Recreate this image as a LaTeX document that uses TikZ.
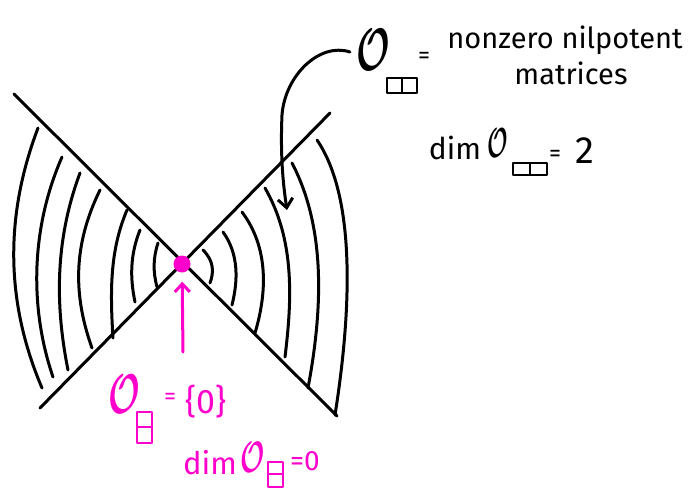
\documentclass[tikz,border=0pt]{standalone}
\usepackage{fontspec}
\usepackage{bm}
\setmainfont{Fira Sans}
\usetikzlibrary{arrows.meta}
\definecolor{mag}{RGB}{255,0,204}
\begin{document}
\begin{tikzpicture}[x=1pt,y=-1pt, line cap=round, line join=round,
  ink/.style={line width=3pt, black},
  young/.style={line width=2.4pt},
  lbl/.style={inner sep=0pt, anchor=center},
  bigO/.style={lbl},
  eqs/.style={lbl, font=\fontsize{24}{24}\selectfont},
]
\useasboundingbox (0,0) rectangle (689,491);

% cone lines
\draw[ink] (14,94) -- (337,416);
\draw[ink] (40,408) -- (330,113);

% left arcs
\draw[ink] (38,128) .. controls (5,215) and (5,301) .. (42,388);
\draw[ink] (62,157) .. controls (30,230) and (30,310) .. (53,377);
\draw[ink] (80,173) .. controls (55,240) and (55,305) .. (68,370);
\draw[ink] (100,190) .. controls (73,245) and (73,295) .. (92,348);
\draw[ink] (127,210) .. controls (110,250) and (110,290) .. (113,338);
\draw[ink] (140,230) .. controls (130,255) and (130,278) .. (135,302);
\draw[ink] (158,243) .. controls (153,258) and (153,272) .. (157,287);

% right arcs
\draw[ink] (203,250) .. controls (214,261) and (214,272) .. (210,283);
\draw[ink] (223,232) .. controls (239,254) and (238,281) .. (232,305);
\draw[ink] (242,212) .. controls (269,248) and (267,293) .. (255,333);
\draw[ink] (265,188) .. controls (295,240) and (292,300) .. (285,357);
\draw[ink] (292,163) .. controls (327,230) and (322,313) .. (308,388);
\draw[ink] (317,140) .. controls (358,200) and (350,320) .. (335,415);

% the zero orbit
\node[circle, fill=mag, minimum size=17pt, inner sep=0pt] (zero) at (182,264) {};

% top-right label
\node[bigO] (O1) at (373,50) {\scalebox{3.6}[6]{$\bm{\mathcal{O}}$}};
\draw[young] (387,78) rectangle (417,93) (402,78) -- (402,93);
\node[eqs] (eq1) at (424,58) {=};
\node[lbl, font=\fontsize{29}{29}\selectfont] (nz) at (565,40) {nonzero nilpotent};
\node[lbl, font=\fontsize{29}{29}\selectfont] (mat) at (571,73) {matrices};

\node[lbl, font=\fontsize{30}{30}\selectfont] (dim1) at (455,148) {dim};
\node[bigO] (O2) at (498,143) {\scalebox{2.2}[4.2]{$\bm{\mathcal{O}}$}};
\draw[young] (513,163) rectangle (547,175) (530,163) -- (530,175);
\node[eqs] (eq2) at (555,156) {=};
\node[lbl, font=\fontsize{38}{38}\selectfont] (two) at (585,151) {2};

% arrow into the big orbit
\coordinate (tipA) at (287,210);
\draw[ink, -{Straight Barb[length=9pt,width=15pt]}] ([xshift=-6pt,yshift=-2pt]O1.west) .. controls (320,42) and (285,75) .. (282,115) .. controls (280,160) and (284,190) .. (tipA);

% bottom magenta labels
\begin{scope}[mag]
\node[bigO, text=mag] (O3) at (124,394) {\scalebox{3.4}[5.6]{$\bm{\mathcal{O}}$}};
\draw[young] (137,412) rectangle (152,443) (137,427) -- (152,427);
\node[eqs, text=mag] (eq3) at (170,399) {=};
\node[lbl, text=mag, font=\fontsize{34}{34}\selectfont] (set0) at (206,402) {\{0\}};

\node[lbl, text=mag, font=\fontsize{31}{31}\selectfont] (dim2) at (210,463) {dim};
\node[bigO, text=mag] (O4) at (253,457) {\scalebox{2.6}[4.4]{$\bm{\mathcal{O}}$}};
\draw[young] (268,462) rectangle (283,487) (268,474) -- (283,474);
\node[lbl, text=mag, font=\fontsize{28}{28}\selectfont] (eq0) at (305,461) {=0};

\coordinate (tailB) at (183,352);
\draw[line width=3pt, -{Straight Barb[length=8pt,width=15pt]}, shorten >=9pt] (tailB) -- (zero);
\end{scope}
\end{tikzpicture}
\end{document}
